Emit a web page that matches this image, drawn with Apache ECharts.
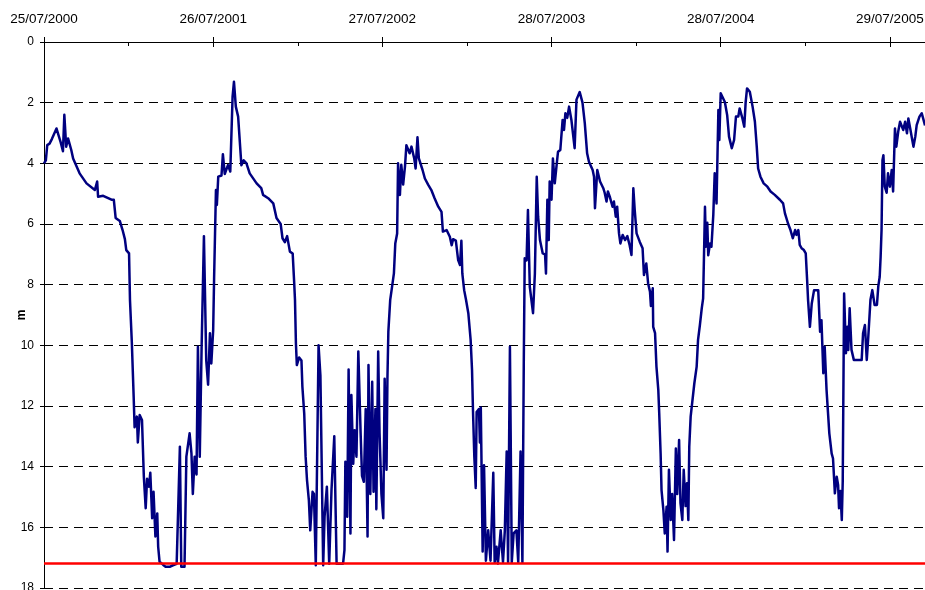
<!DOCTYPE html>
<html>
<head>
<meta charset="utf-8">
<script src="https://cdn.jsdelivr.net/npm/echarts@6/dist/echarts.min.js"></script>
<style>
  html, body { margin: 0; padding: 0; background: #fff; }
  #chart { width: 925px; height: 590px; }
</style>
</head>
<body>
<div id="chart"></div>
<script>
// Water level readings: [days since 25/07/2000, depth below reference in m]
var season2000 = [[0,4.0],[4,3.9],[7,3.4],[12,3.35],[17,3.2],[21,3.25],[27,2.85],[32,3.1],[36,3.3],[41,3.6],[44,2.4],[48,3.45],[52,3.18],[59,3.56],[63,3.84],[77,4.33],[92,4.66],[110,4.88],[115,4.6],[117,5.1],[128,5.07],[146,5.2],[151,5.2],[155,5.8],[164,5.9],[170,6.2],[175,6.5],[178,6.86],[184,6.97],[186,8.5],[188,9.2],[190,9.9],[194,11.7],[196,12.7],[201,12.35],[203,13.2],[207,12.3],[212,12.46],[216,14.33],[220,15.37],[223,14.4],[227,14.66],[230,14.2],[234,15.7],[237,14.83],[241,16.3],[245,15.54],[247,16.64],[250,17.13],[258,17.24],[263,17.3],[272,17.3],[279,17.25],[287,17.2],[290,17.22],[294,13.34],[297,17.3],[304,17.3],[308,13.67],[315,12.9],[319,13.56],[322,14.9],[326,13.67],[330,14.26],[333,10.05],[337,13.67],[341,10.05],[346,6.4],[351,10.5],[355,11.3],[359,9.6],[362,10.6]];
var season2001 = [[366,9.5],[368,7.8],[372,4.88],[374,5.37],[377,4.44],[384,4.4],[387,3.7],[391,4.35],[398,4.06],[403,4.27],[408,1.8],[411,1.31],[415,2.13],[420,2.46],[427,4.06],[432,3.9],[438,4.0],[445,4.33],[460,4.66],[470,4.82],[474,5.04],[485,5.15],[496,5.32],[503,5.8],[512,6.0],[516,6.47],[521,6.6],[526,6.4],[532,6.91],[538,6.97],[541,7.85],[543,8.5],[545,9.93],[547,10.65],[552,10.4],[557,10.5],[559,11.36],[563,12.25],[566,13.67],[569,14.44],[573,15.1],[576,16.1],[581,14.83],[584,14.9],[588,17.25],[594,10.0],[598,11.0],[604,17.25],[607,15.65],[612,14.66],[617,17.2],[622,14.77],[628,13.0],[633,17.2],[647,17.2],[650,16.75],[652,13.84],[656,15.65],[659,10.8],[663,16.2],[665,11.64],[669,13.9],[672,12.8],[676,13.67],[680,10.2],[685,12.9],[688,14.3],[692,14.5],[696,12.1],[700,16.3],[702,10.65],[706,14.9],[710,11.2],[713,14.83],[717,12.1],[719,15.4],[723,10.2],[726,12.9],[730,14.9]];
var season2002 = [[734,15.7],[737,11.1],[741,14.1],[743,11.1],[745,9.55],[749,8.5],[752,8.18],[757,7.63],[760,6.64],[764,6.31],[766,4.0],[770,5.04],[773,4.05],[777,4.7],[781,4.1],[784,3.4],[788,3.45],[791,3.67],[795,3.45],[801,3.84],[804,4.17],[808,3.14],[811,3.84],[819,4.22],[824,4.5],[831,4.7],[838,4.88],[845,5.15],[853,5.43],[860,5.6],[863,6.25],[871,6.2],[878,6.42],[882,6.7],[885,6.5],[891,6.55],[896,7.19],[900,7.35],[903,6.55],[905,7.63],[909,8.18],[913,8.5],[918,8.94],[923,9.82],[926,10.8],[928,12.1],[931,13.67],[934,14.7],[936,12.2],[941,12.1],[943,13.2],[945,12.05],[949,16.8],[952,13.95],[956,17.1],[961,16.1],[966,17.1],[972,14.2],[975,17.15],[979,16.64],[982,17.2],[988,16.1],[993,17.15],[997,16.1],[1001,13.5],[1004,17.15],[1008,10.05],[1012,17.15],[1016,16.2],[1022,16.1],[1026,17.15],[1031,13.5],[1035,17.15],[1038,10.5],[1040,7.13],[1044,7.2],[1047,5.54],[1051,8.07],[1058,8.94],[1062,7.63],[1066,4.44],[1069,5.76],[1073,6.53],[1079,6.97],[1084,7.0],[1086,7.63],[1089,5.2],[1092,6.53],[1094,4.6]];
var season2003 = [[1098,5.2],[1101,3.84],[1105,4.66],[1109,4.06],[1112,3.62],[1117,3.56],[1122,2.57],[1125,2.9],[1128,2.35],[1132,2.5],[1136,2.13],[1141,2.57],[1148,3.5],[1152,1.9],[1159,1.65],[1165,2.0],[1170,2.68],[1175,3.67],[1179,3.95],[1187,4.22],[1190,4.44],[1192,5.48],[1197,4.22],[1203,4.6],[1210,4.82],[1213,4.97],[1217,5.26],[1220,4.93],[1224,5.1],[1230,5.43],[1233,5.26],[1237,5.76],[1240,5.43],[1244,6.31],[1247,6.64],[1252,6.36],[1257,6.53],[1262,6.4],[1267,6.7],[1271,7.02],[1275,4.82],[1278,5.54],[1282,6.31],[1289,6.59],[1295,6.8],[1298,7.68],[1303,7.3],[1307,7.96],[1311,8.23],[1313,8.7],[1317,8.12],[1318,9.39],[1322,9.6],[1325,10.7],[1329,11.47],[1331,12.24],[1334,13.56],[1336,14.77],[1340,15.43],[1343,16.2],[1347,15.32],[1349,16.8],[1352,14.1],[1356,15.76],[1359,14.9],[1363,16.42],[1367,13.4],[1370,14.9],[1374,13.12],[1377,15.2],[1381,15.76],[1384,14.1],[1388,15.3],[1391,14.55],[1394,15.76],[1396,13.34],[1399,12.35],[1403,12.3],[1407,11.25],[1412,10.7],[1415,9.82],[1419,9.33],[1423,8.78],[1426,8.45],[1430,5.43],[1432,6.75],[1435,5.96],[1437,7.03],[1441,6.64],[1444,6.75],[1448,5.7],[1451,4.33],[1455,5.32],[1459,2.24],[1461,3.23]];
var season2004 = [[1464,1.69],[1468,1.75],[1473,1.98],[1478,2.41],[1482,3.12],[1488,3.5],[1493,3.23],[1497,2.46],[1502,2.46],[1505,2.19],[1511,2.52],[1515,2.79],[1518,1.98],[1521,1.53],[1527,1.64],[1533,2.13],[1538,2.63],[1542,3.45],[1545,4.17],[1550,4.44],[1557,4.66],[1565,4.77],[1572,4.93],[1581,5.04],[1592,5.2],[1599,5.32],[1603,5.65],[1607,5.65],[1610,6.0],[1615,6.2],[1620,6.47],[1625,6.2],[1628,6.36],[1632,6.2],[1635,6.69],[1639,6.8],[1644,6.86],[1648,6.97],[1651,7.85],[1653,8.5],[1657,9.39],[1661,8.62],[1666,8.18],[1670,8.23],[1675,8.18],[1679,9.55],[1682,9.17],[1686,10.92],[1689,10.05],[1693,11.47],[1699,12.9],[1704,13.56],[1707,13.73],[1711,14.88],[1715,14.33],[1718,14.6],[1720,15.37],[1723,14.8],[1726,15.76],[1728,14.5],[1731,8.29],[1735,10.26],[1738,9.39],[1740,10.15],[1743,8.78],[1747,10.15],[1752,10.48],[1761,10.48],[1769,10.48],[1772,9.6],[1776,9.33],[1780,10.48],[1783,9.8],[1788,8.5],[1792,8.18],[1797,8.67],[1802,8.67],[1805,8.05],[1808,7.74],[1810,7.08],[1812,6.2],[1814,3.9],[1816,3.73],[1819,4.77],[1823,4.97],[1826,4.33]];
var season2005 = [[1830,4.77],[1834,4.22],[1837,4.93],[1841,2.85],[1844,3.45],[1848,2.96],[1852,2.63],[1859,2.9],[1863,2.63],[1867,3.01],[1870,2.52],[1874,2.85],[1881,3.45],[1885,3.12],[1888,2.74],[1894,2.46],[1899,2.35],[1906,2.75]];

// Pump intake / lowest measurable level (m)
var limitLevel = 17.2;

// Axis settings
var startDateUTC = Date.UTC(2000, 6, 25);
var dayStep = 366;        // one labelled tick per year
var lastDay = 1906;
var depthMax = 18;
var depthStep = 2;

var readings = [].concat(season2000, season2001, season2002, season2003, season2004, season2005);

function pad(n) { return (n < 10 ? '0' : '') + n; }
function dayLabel(v) {
  if (v % dayStep !== 0) return '';
  var d = new Date(startDateUTC + v * 86400000);
  return pad(d.getUTCDate()) + '/' + pad(d.getUTCMonth() + 1) + '/' + d.getUTCFullYear();
}

var FONT = '"Liberation Sans", Arial, sans-serif';
var chart = echarts.init(document.getElementById('chart'), null, { renderer: 'canvas' });

chart.setOption({
  animation: false,
  backgroundColor: '#ffffff',
  grid: { left: 44, right: 0, top: 42, bottom: 2, containLabel: false, outerBoundsMode: 'none' },
  xAxis: [
    {
      type: 'value',
      position: 'top',
      min: 0, max: lastDay, interval: dayStep,
      axisLine: { show: true, onZero: false, lineStyle: { color: '#000', width: 1 } },
      axisTick: { show: true, inside: false, length: 5, lineStyle: { color: '#000' } },
      axisLabel: {
        show: true, margin: 16, formatter: dayLabel, showMaxLabel: false,
        color: '#000', fontSize: 13.5, fontFamily: FONT
      },
      splitLine: { show: false }
    },
    {
      type: 'value',
      position: 'top',
      min: 0, max: lastDay, interval: dayStep,
      axisLine: { show: false, onZero: false },
      axisTick: { show: true, inside: true, length: 5, lineStyle: { color: '#000' } },
      minorTick: { show: true, splitNumber: 2, length: 4, lineStyle: { color: '#000' } },
      axisLabel: { show: false },
      splitLine: { show: false }
    }
  ],
  yAxis: {
    type: 'value',
    inverse: true,
    min: 0, max: depthMax, interval: depthStep,
    name: 'm',
    nameLocation: 'middle',
    nameGap: 16,
    nameMoveOverlap: false,
    nameRotate: 90,
    nameTextStyle: { color: '#000', fontSize: 12, fontWeight: 'bold', fontFamily: FONT },
    axisLine: { show: true, onZero: false, lineStyle: { color: '#000', width: 1 } },
    axisTick: { show: true, inside: false, length: 4, lineStyle: { color: '#000' } },
    axisLabel: { color: '#000', fontSize: 12, margin: 10, fontFamily: FONT },
    splitLine: { show: true, lineStyle: { color: '#000', width: 1, type: [9, 6] } }
  },
  series: [
    {
      type: 'line',
      xAxisIndex: 0,
      data: readings,
      showSymbol: false,
      symbol: 'none',
      lineStyle: { color: '#000080', width: 2.5, join: 'round' },
      z: 3,
      markLine: {
        silent: true,
        symbol: ['none', 'none'],
        label: { show: false },
        lineStyle: { color: '#ff0000', width: 2.5, type: 'solid' },
        data: [{ yAxis: limitLevel }]
      }
    }
  ]
});
</script>
</body>
</html>
